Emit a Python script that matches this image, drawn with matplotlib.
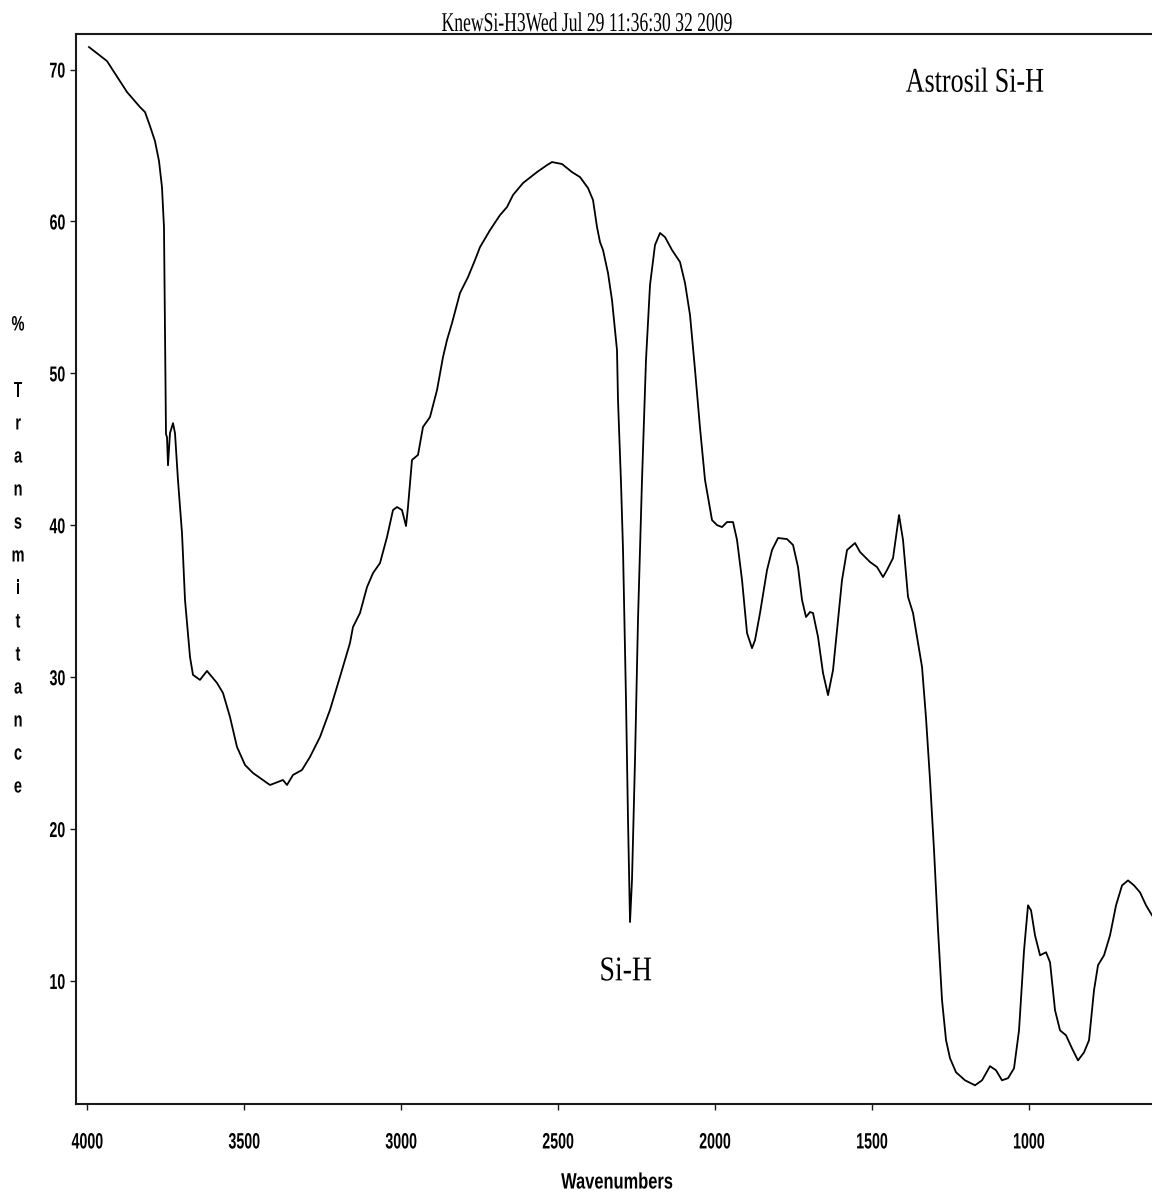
import matplotlib
matplotlib.use("Agg")
import matplotlib.pyplot as plt
from matplotlib.patheffects import AbstractPathEffect
from matplotlib.transforms import Affine2D
from matplotlib.ticker import FixedLocator

# ---- spectrum (wavenumber in cm-1, %T) ----
wavenumber = [
    3995.2, 3937.9, 3896.4, 3874.1, 3832.7, 3816.7, 3800.8, 3784.9, 3772.1, 3762.6,
    3756.2, 3753.0, 3749.8, 3746.6, 3743.4, 3737.1, 3727.5, 3721.1, 3711.6, 3698.8,
    3689.2, 3673.3, 3663.8, 3641.5, 3619.2, 3587.3, 3568.2, 3545.9, 3523.6, 3498.0,
    3472.5, 3418.4, 3376.9, 3364.2, 3345.1, 3316.4, 3290.9, 3259.0, 3227.2, 3195.3,
    3163.4, 3153.9, 3131.6, 3109.2, 3090.1, 3067.8, 3045.5, 3026.4, 3013.6, 2997.7,
    2984.9, 2978.6, 2965.8, 2946.7, 2930.8, 2908.5, 2886.1, 2867.0, 2854.3, 2838.3,
    2812.8, 2787.3, 2765.0, 2749.1, 2717.2, 2685.3, 2663.0, 2643.9, 2612.0, 2567.4,
    2535.6, 2519.6, 2487.7, 2455.9, 2430.4, 2404.9, 2388.9, 2376.2, 2366.6, 2357.1,
    2341.1, 2328.4, 2312.5, 2309.3, 2299.7, 2293.3, 2283.8, 2277.4, 2271.0, 2264.7,
    2255.1, 2245.6, 2232.8, 2220.1, 2207.3, 2191.4, 2175.4, 2159.5, 2137.2, 2111.7,
    2095.7, 2079.8, 2063.8, 2047.9, 2032.0, 2009.7, 1993.7, 1977.8, 1961.9, 1942.7,
    1930.0, 1914.0, 1898.1, 1882.2, 1872.6, 1856.7, 1834.4, 1818.4, 1799.3, 1770.6,
    1751.5, 1735.6, 1722.8, 1710.1, 1697.3, 1687.8, 1671.8, 1655.9, 1640.0, 1624.0,
    1611.3, 1595.4, 1579.4, 1553.9, 1538.0, 1506.1, 1483.8, 1464.7, 1452.0, 1432.8,
    1413.7, 1401.0, 1385.0, 1369.1, 1353.2, 1340.4, 1327.7, 1314.9, 1302.2, 1289.4,
    1276.7, 1263.9, 1251.2, 1232.1, 1203.4, 1171.5, 1149.2, 1123.7, 1104.6, 1085.5,
    1066.3, 1047.2, 1031.3, 1015.3, 1002.6, 993.0, 980.3, 964.3, 945.2, 932.5,
    916.5, 900.6, 881.5, 862.4, 843.3, 824.1, 808.2, 792.3, 779.5, 760.4,
    741.3, 722.1, 703.0, 683.9, 664.8, 645.6, 626.5, 607.4,
]
transmittance = [
    71.48, 70.56, 69.24, 68.52, 67.53, 67.20, 66.28, 65.29, 63.98, 62.26,
    59.63, 53.05, 46.00, 45.80, 43.95, 46.06, 46.72, 46.06, 42.97, 39.49,
    35.08, 31.33, 30.15, 29.82, 30.41, 29.62, 28.96, 27.38, 25.41, 24.22,
    23.69, 22.90, 23.23, 22.90, 23.56, 23.89, 24.75, 26.06, 27.84, 30.02,
    32.25, 33.30, 34.22, 35.93, 36.85, 37.51, 39.22, 41.00, 41.20, 41.00,
    39.95, 41.20, 44.30, 44.63, 46.47, 47.12, 48.90, 51.07, 52.19, 53.31,
    55.29, 56.34, 57.46, 58.31, 59.43, 60.42, 60.95, 61.74, 62.53, 63.25,
    63.71, 63.91, 63.78, 63.25, 62.92, 62.20, 61.41, 59.63, 58.64, 58.12,
    56.60, 54.82, 51.53, 48.24, 42.78, 38.37, 28.50, 20.60, 13.88, 16.65,
    24.55, 33.76, 42.98, 50.88, 55.81, 58.45, 59.24, 58.97, 58.12, 57.33,
    55.94, 53.84, 50.22, 46.40, 42.98, 40.34, 40.01, 39.88, 40.21, 40.21,
    39.03, 36.39, 32.90, 31.91, 32.44, 34.22, 37.05, 38.37, 39.16, 39.09,
    38.70, 37.25, 35.08, 33.96, 34.29, 34.22, 32.64, 30.27, 28.82, 30.47,
    33.10, 36.39, 38.37, 38.83, 38.24, 37.58, 37.25, 36.59, 37.05, 37.84,
    40.67, 39.03, 35.28, 34.22, 32.25, 30.67, 27.31, 23.23, 18.62, 13.35,
    8.74, 6.10, 4.91, 3.99, 3.46, 3.13, 3.46, 4.39, 4.12, 3.46,
    3.60, 4.25, 6.75, 12.02, 14.98, 14.65, 13.00, 11.69, 11.89, 11.23,
    8.07, 6.75, 6.42, 5.56, 4.77, 5.30, 6.10, 9.39, 11.04, 11.69,
    13.00, 14.98, 16.29, 16.62, 16.29, 15.83, 14.98, 14.32,
]

x_ticks = [4000, 3500, 3000, 2500, 2000, 1500, 1000]
y_ticks = [10, 20, 30, 40, 50, 60, 70]

header_text = "KnewSi-H3Wed Jul 29 11:36:30 32 2009"
sample_name = "Astrosil Si-H"
band_name = "Si-H"
x_title = "Wavenumbers"
y_title = ["%", "", "T", "r", "a", "n", "s", "m", "i", "t", "t", "a", "n", "c", "e"]


class Condense(AbstractPathEffect):
    """Squeeze glyph outlines horizontally, keeping one edge (or the centre) fixed."""

    def __init__(self, sx, anchor="center"):
        super().__init__()
        self.sx = sx
        self.anchor = anchor

    def draw_path(self, renderer, gc, tpath, affine, rgbFace=None):
        ext = tpath.get_extents()
        if self.anchor == "left":
            cx = ext.x0
        elif self.anchor == "right":
            cx = ext.x1
        else:
            cx = 0.5 * (ext.x0 + ext.x1)
        squeeze = Affine2D().translate(-cx, 0).scale(self.sx, 1.0).translate(cx, 0)
        renderer.draw_path(gc, tpath, squeeze + affine, rgbFace)


W, H = 1152, 1195
fig = plt.figure(figsize=(W / 100, H / 100), dpi=100)
ax = fig.add_axes([76 / W, 1 - 1104 / H, 1 - 76 / W, (1104 - 34) / H])

ax.plot(wavenumber, transmittance, color="black", lw=1.3)

ax.set_xlim(4036.6, 607.5)
ax.set_ylim(1.9, 72.34)
ax.xaxis.set_major_locator(FixedLocator(x_ticks))
ax.yaxis.set_major_locator(FixedLocator(y_ticks))
ax.set_xticklabels([str(v) for v in x_ticks])
ax.set_yticklabels([str(v) for v in y_ticks])

spine_col = "#1a1a1a"
for side in ("left", "bottom", "top"):
    ax.spines[side].set_color(spine_col)
    ax.spines[side].set_linewidth(1.5)
ax.spines["right"].set_visible(False)

sans_bold = dict(family="Liberation Sans", weight="bold")
ax.tick_params(axis="both", direction="out", length=4.5, width=1.0,
               color=spine_col, labelcolor="black")
ax.tick_params(axis="x", pad=16, labelsize=16)
ax.tick_params(axis="y", pad=3, labelsize=15.5)
for lab in ax.get_xticklabels():
    lab.set_fontfamily("Liberation Sans")
    lab.set_fontweight("bold")
    lab.set_path_effects([Condense(0.64, "center")])
for lab in ax.get_yticklabels():
    lab.set_fontfamily("Liberation Sans")
    lab.set_fontweight("bold")
    lab.set_path_effects([Condense(0.66, "right")])

# header line above the frame
fig.text(587 / W, 1 - 31 / H, header_text, ha="center", va="baseline",
         family="Liberation Serif", fontsize=19.5,
         path_effects=[Condense(0.65, "center")])

# annotations inside the plot
ax.text(1171, 69.1, sample_name, ha="center", va="center",
        family="Liberation Serif", fontsize=25,
        path_effects=[Condense(0.75, "center")])
ax.text(2285, 10.6, band_name, ha="center", va="center",
        family="Liberation Serif", fontsize=25,
        path_effects=[Condense(0.8, "center")])

# axis titles
fig.text(617 / W, 1 - 1183 / H, x_title, ha="center", va="center",
         fontsize=16, path_effects=[Condense(0.74, "center")], **sans_bold)
for i, ch in enumerate(y_title):
    if ch:
        fig.text(18 / W, 1 - (325 + 33 * i) / H, ch, ha="center", va="center",
                 fontsize=15, path_effects=[Condense(0.7, "center")], **sans_bold)

fig.savefig("out.png", dpi=100)
